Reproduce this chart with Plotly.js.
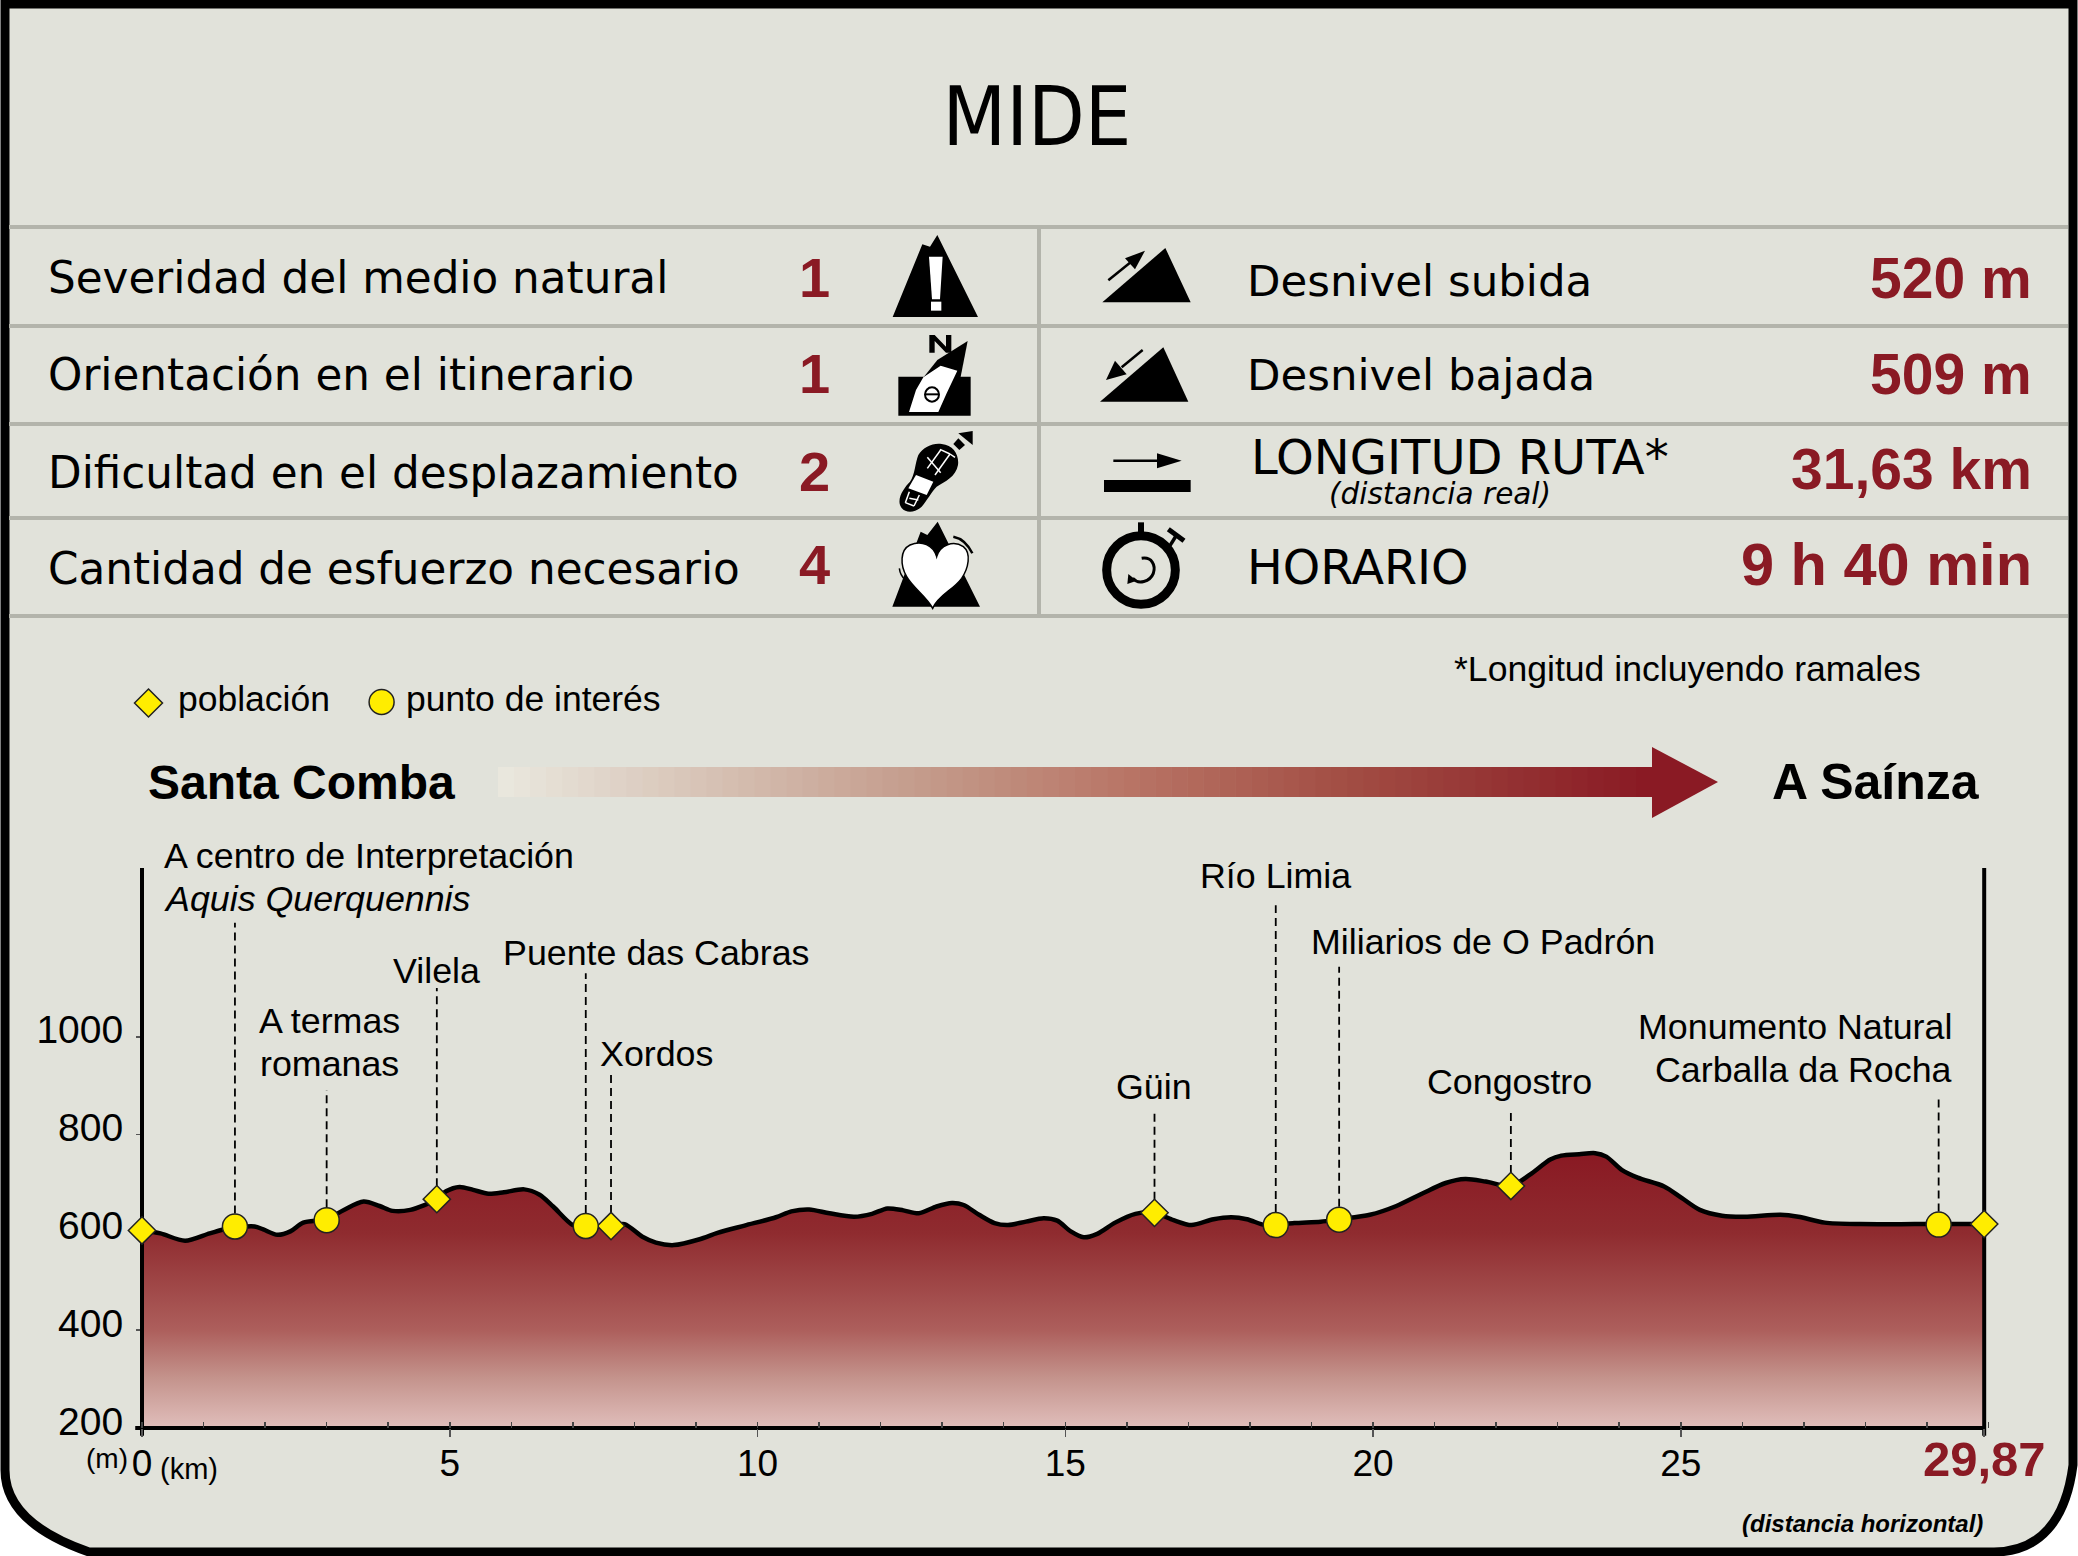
<!DOCTYPE html>
<html><head><meta charset="utf-8">
<script src="https://cdn.plot.ly/plotly-3.0.1.min.js"></script>
<style>html,body{margin:0;padding:0;background:#fff}#c{width:2078px;height:1556px}</style>
</head><body><div id="c"></div>
<script>
// ---- data ----
const profileKm = [0,0.3,0.7,1.1,1.39,1.83,1.97,2.2,2.41,2.62,3,3.28,3.6,3.86,4.07,4.36,4.78,4.94,5.16,5.38,5.63,5.88,6.21,6.46,6.68,7,7.2,7.61,7.84,8.13,8.35,8.64,9.06,9.35,9.79,10.3,10.55,10.84,11.17,11.57,11.86,12.11,12.37,12.62,12.91,13.16,13.35,13.6,13.85,14.07,14.36,14.65,14.87,15.09,15.3,15.52,15.81,16.14,16.45,16.76,17.05,17.41,17.7,17.95,18.24,18.43,18.72,19.15,19.45,19.95,20.38,20.81,21.18,21.5,21.83,22.24,22.55,22.88,23.06,23.35,23.61,23.79,24.04,24.3,24.73,25.02,25.31,25.67,26.04,26.62,26.91,27.34,27.92,28.8,29.21,29.93];
const profileM  = [605,598,583,598,608,612,606,595,602,620,627,646,663,654,644,646,667,684,693,687,679,682,688,677,653,615,612,613,617,591,579,574,586,599,614,631,643,647,639,632,638,649,645,639,653,660,656,636,619,615,622,629,624,602,590,597,620,638,640,625,615,627,631,627,615,615,619,622,627,636,654,680,701,709,704,695,718,749,757,760,762,755,728,712,694,670,646,634,632,636,632,620,617,617,617,617];
const townKm = [0,4.79,7.62,16.45,22.24,29.93];
const townM  = [604,668,613,640,695,617];
const poiKm  = [1.51,3.0,7.21,18.42,19.45,29.19];
const poiM   = [612,625,613,615,626,616];
const leaderKm  = [1.51,3.0,4.79,7.21,7.62,16.45,18.42,19.45,22.24,29.19];
const leaderBase= [612,625,668,613,613,640,615,626,695,616];
const leaderTop = [1233,891,1100,1130,922,850,1269,1143,850,881];
const xTickVals = [0,5,10,15,20,25,29.93];
const xTickText = ['0','5','10','15','20','25','<span style="font-size:49px;font-weight:bold;fill:#8a1a24;color:#8a1a24">29,87</span>'];
const yTickVals = [200,400,600,800,1000];
const leftRows  = ['Severidad del medio natural','Orientación en el itinerario','Dificultad en el desplazamiento','Cantidad de esfuerzo necesario'];
const leftScore = ['1','1','2','4'];
const rightVals = ['520 m','509 m','31,63 km','9 h 40 min'];

const W=2078,H=1556, X=p=>p/W, Y=p=>1-p/H;
const AR='"Liberation Sans",Arial,sans-serif', DJ='"DejaVu Sans",sans-serif', DC='"DejaVu Sans Condensed","DejaVu Sans",sans-serif';
const RED='#8a1a24', BG='#e1e2da', RULE='#b3b4ab';
const annotations=[];
function txt(text,x,base,size,o={}){
  const fam=o.fam||AR, d=fam===AR?0.212:0.236;
  annotations.push({text,xref:'paper',yref:'paper',x:X(x),y:Y(base+d*size),xanchor:o.a||'left',yanchor:'bottom',
    showarrow:false,borderpad:0,borderwidth:0,font:{family:fam,size,color:o.c||'#000'}});
}
// ---- shapes helpers ----
const shapes=[];
function pth(d){return d.replace(/(-?[\d.]+),(-?[\d.]+)/g,(m,a,b)=>X(+a).toFixed(6)+','+Y(+b).toFixed(6));}
function ico(d){return d.replace(/(-?[\d.]+),(-?[\d.]+)/g,(m,a,b)=>(850+a/3)+','+(220+b/3));}
function poly(d,fill,o={}){shapes.push({type:'path',xref:'paper',yref:'paper',path:pth(d),fillcolor:fill||'rgba(0,0,0,0)',
   line:{color:o.lc||'rgba(0,0,0,0)',width:o.lw||0},layer:o.layer||'above'});}
function icon(d,fill,o){poly(ico(d),fill,o);}
function ln(x0,y0,x1,y1,c,w,layer){shapes.push({type:'line',xref:'paper',yref:'paper',x0:X(x0),y0:Y(y0),x1:X(x1),y1:Y(y1),line:{color:c,width:w},layer:layer||'above'});}
function circ(cx,cy,r,fill,lc,lw){shapes.push({type:'circle',xref:'paper',yref:'paper',x0:X(cx-r),x1:X(cx+r),y0:Y(cy-r),y1:Y(cy+r),fillcolor:fill,line:{color:lc,width:lw},layer:'above'});}

// frame
poly('M5,4 L2073,4 L2073,1465 C2066,1520 2040,1552 1994,1552 L89,1552 C40,1535 5,1510 5,1470 Z',BG,{lc:'#000',lw:9,layer:'below'});
// table rules
[227,326,424,518,616].forEach(y=>ln(9,y,2068,y,RULE,4,'below'));
ln(1039,227,1039,616,RULE,4,'below');

// icons (coordinates in a 3x icon-sheet space)
icon('M128,291 L217,73 L240,80 L262,45 L384,291 Z','#000');
icon('M237,110 L278,110 L270,238 L246,238 Z','#fff'); icon('M243,245 L274,245 L274,272 L243,272 Z','#fff');
icon('M145,470 L362,470 L362,587 L145,587 Z','#000');
icon('M238,345 L254,345 L288,380 L288,345 L304,345 L304,398 L288,398 L254,363 L254,398 L238,398 Z','#000');
icon('M353,363 L262,420 L222,470 L300,540 L332,470 Z','#000');
icon('M322,452 L272,437 L220,472 L198,510 L177,576 L265,576 L290,520 Z','#fff');
shapes.push({type:'circle',xref:'paper',yref:'paper',x0:X(850+225/3),x1:X(850+267/3),y0:Y(220+502/3),y1:Y(220+545/3),fillcolor:'rgba(0,0,0,0)',line:{color:'#000',width:2},layer:'above'});
icon('M226,523 L266,523',null,{lc:'#000',lw:2});
icon('M275,672 C310,675 328,705 324,735 C318,770 285,785 260,800 C245,815 232,840 215,860 C195,880 160,882 150,855 C142,830 165,800 180,785 C195,765 195,730 205,705 C220,680 250,668 275,672 Z','#000');
icon('M198,765 L250,785 L230,825 L175,805 Z','#fff');
['M232,712 L272,758','M300,702 L255,765','M272,690 L232,745','M270,688 L300,702','M300,702 L315,712','M178,815 L166,848','M208,825 L192,858','M166,848 L192,858','M178,835 L205,840'].forEach(d=>icon(d,null,{lc:'#fff',lw:1.5}));
icon('M310,672 L325,655 L345,675 L328,690 Z','#000'); icon('M325,640 L368,633 L368,675 Z','#000');
icon('M127,1160 L212,935 L232,945 L263,905 L390,1160 Z','#000');
icon('M248,1165 C230,1130 190,1105 170,1070 C150,1035 150,990 180,975 C215,960 250,975 260,1010 C270,975 310,960 340,980 C365,1000 355,1045 335,1075 C310,1110 265,1125 248,1165 Z','#fff',{lc:'#000',lw:1.5});
icon('M310,950 C335,955 355,975 367,1000',null,{lc:'#000',lw:2.5}); icon('M148,1045 C150,1060 155,1070 165,1078',null,{lc:'#000',lw:1.5});
icon('M757,247 L946,84 L1022,247 Z','#000'); icon('M775,181 L840,128',null,{lc:'#000',lw:2.5}); icon('M885,92 L825,115 L855,148 Z','#000');
icon('M750,545 L940,382 L1015,545 Z','#000'); icon('M878,390 L815,442',null,{lc:'#000',lw:2.5}); icon('M768,480 L830,463 L795,422 Z','#000');
icon('M790,722 L930,722',null,{lc:'#000',lw:2.5}); icon('M995,722 L921,700 L921,745 Z','#000'); icon('M762,780 L1022,780 L1022,816 L762,816 Z','#000');
shapes.push({type:'circle',xref:'paper',yref:'paper',x0:X(850+770/3),x1:X(850+976/3),y0:Y(220+947/3),y1:Y(220+1153/3),fillcolor:'rgba(0,0,0,0)',line:{color:'#000',width:9},layer:'above'});
icon('M864,907 L882,907 L882,942 L864,942 Z','#000');
icon('M958,980 L978,948',null,{lc:'#000',lw:3.5}); icon('M955,928 L1002,962',null,{lc:'#000',lw:5});
icon('M875,1015 C905,1010 918,1035 910,1060 C900,1085 865,1095 848,1075',null,{lc:'#000',lw:3});
icon('M832,1092 L835,1062 L860,1082 Z','#000');

// legend keys
poly('M148.5,689 L162.5,703 L148.5,717 L134.5,703 Z','#ffed00',{lc:'#222',lw:1.5});
circ(381.6,702,12.5,'#ffed00','#222',1.5);
txt('población',178,711,35.5); txt('punto de interés',406,711,35.5);

// direction arrow
const aL=498,aR=1652,aN=72;
const stops=[[0,[233,231,221]],[0.35,[197,158,142]],[0.55,[184,116,101]],[0.73,[163,79,69]],[0.9,[146,46,48]],[1,[138,26,36]]];
function arrowColor(t){for(let i=1;i<stops.length;i++){if(t<=stops[i][0]){const a=stops[i-1],b=stops[i],f=(t-a[0])/(b[0]-a[0]);return a[1].map((v,k)=>Math.round(v+(b[1][k]-v)*f));}}return stops[stops.length-1][1];}
for(let i=0;i<aN;i++){const c=arrowColor(i/(aN-1));
  const x0=aL+(aR-aL)*i/aN,x1=aL+(aR-aL)*(i+1)/aN+0.6;
  poly(`M${x0},767 L${x1},767 L${x1},797 L${x0},797 Z`,`rgb(${c})`);}
poly('M1652,747 L1718,782 L1652,818 Z',RED);

// ---- text ----
const leftBase=[293,390,488,584], scoreBase=[297,393,491,584], valBase=[298,394,488.6,585], valSize=[57,57,57,59.5];
leftRows.forEach((t,i)=>txt(t,47.5,leftBase[i],43.7,{fam:DJ}));
leftScore.forEach((t,i)=>txt('<b>'+t+'</b>',814,scoreBase[i],56,{a:'center',c:RED}));
rightVals.forEach((t,i)=>txt('<b>'+t+'</b>',2032,valBase[i],valSize[i],{a:'right',c:RED}));
txt('Desnivel subida',1246.5,296,43.5,{fam:DJ}); txt('Desnivel bajada',1246.5,390,43.5,{fam:DJ});
txt('LONGITUD RUTA*',1250.5,473.5,48,{fam:DJ}); txt('<i>(distancia real)</i>',1328.5,504,29.5,{fam:DJ});
txt('HORARIO',1246.5,584,47.6,{fam:DJ});
txt('*Longitud incluyendo ramales',1454,681,35.6);
txt('<b>Santa Comba</b>',147.5,799,48); txt('<b>A Saínza</b>',1772,799,50);
txt('A centro de Interpretación',164,868,35.8); txt('<i>Aquis Querquennis</i>',164,911,35.8);
txt('A termas',329.6,1033.5,35.8,{a:'center'}); txt('romanas',329.6,1076,35.8,{a:'center'});
txt('Vilela',436.7,983.5,35.8,{a:'center'}); txt('Puente das Cabras',656,965.5,35.8,{a:'center'});
txt('Xordos',656,1066,35.8,{a:'center'}); txt('Güin',1154,1099,35.8,{a:'center'});
txt('Río Limia',1275.7,888.5,35.8,{a:'center'}); txt('Miliarios de O Padrón',1483,954.5,35.8,{a:'center'});
txt('Congostro',1509.6,1094,35.8,{a:'center'});
txt('Monumento Natural',1952,1039,35.8,{a:'right'}); txt('Carballa da Rocha',1952,1082,35.8,{a:'right'});
txt('(m)',107,1468,28,{a:'center'}); txt('(km)',188.5,1479,29,{a:'center'});
txt('<b><i>(distancia horizontal)</i></b>',1983,1532,24,{a:'right'});

// ---- scales: pixels per unit, with a small overscan so edge lines are not clipped ----
const endKm=xTickVals[xTickVals.length-1], topM=1345;
const pxKm=61.55, pxM=0.489, x0Px=142, y200Px=1428;
const xr=[-0.25,endKm+0.25], yr=[180,topM+5];
const dom=[X(x0Px+xr[0]*pxKm),X(x0Px+xr[1]*pxKm)];
const ydom=[Y(y200Px-(yr[0]-200)*pxM),Y(y200Px-(yr[1]-200)*pxM)];
const leaderX=[],leaderY=[];
leaderKm.forEach((k,i)=>{leaderX.push(k,k,null);leaderY.push(leaderBase[i],leaderTop[i],null);});
const traces=[
 {type:'scatter',mode:'lines',x:[0,endKm],y:[200,200],xaxis:'x',yaxis:'y',line:{width:0,color:'rgba(0,0,0,0)'},hoverinfo:'skip',showlegend:false},
 {type:'scatter',mode:'lines',x:profileKm,y:profileM,fill:'tonexty',xaxis:'x',yaxis:'y',
  fillgradient:{type:'vertical',start:200,stop:770,colorscale:[[0,'#e0bebb'],[0.18,'#c4938c'],[0.35,'#ad5f5c'],[0.7,'#8f2b2f'],[1,'#891822']]},
  line:{color:'#000',width:4.5,shape:'spline',smoothing:0.8},hoverinfo:'skip',showlegend:false},
 {type:'scatter',mode:'lines',x:leaderX,y:leaderY,xaxis:'x2',yaxis:'y',line:{color:'#000',width:1.8,dash:'8px,5px'},hoverinfo:'skip',showlegend:false},
 {type:'scatter',mode:'lines',x:[0,0,null,endKm,endKm,null,-0.11,endKm],y:[topM,184,null,topM,184,null,200,200],
  xaxis:'x2',yaxis:'y',line:{color:'#000',width:4},hoverinfo:'skip',showlegend:false},
 {type:'scatter',mode:'markers',name:'población',x:townKm,y:townM,xaxis:'x2',yaxis:'y',cliponaxis:false,
  marker:{symbol:'diamond',size:21,color:'#ffed00',line:{color:'#222',width:1.5}},showlegend:false},
 {type:'scatter',mode:'markers',name:'punto de interés',x:poiKm,y:poiM,xaxis:'x2',yaxis:'y',cliponaxis:false,
  marker:{symbol:'circle',size:25,color:'#ffed00',line:{color:'#222',width:1.5}},showlegend:false}
];
const layout={
 width:W,height:H,margin:{l:0,r:0,t:0,b:0,pad:0},paper_bgcolor:'#fff',plot_bgcolor:'rgba(0,0,0,0)',showlegend:false,
 title:{text:'MIDE',xref:'paper',yref:'paper',x:X(1037),xanchor:'center',y:Y(126+0.236*82),yanchor:'bottom',font:{family:DC,size:82,color:'#000'}},
 xaxis:{domain:dom,range:xr,anchor:'free',position:Y(y200Px),tickmode:'array',tickvals:xTickVals,ticktext:xTickText,ticks:'outside',ticklen:8,tickwidth:1.5,tickcolor:'#555',
   showline:false,showgrid:false,zeroline:false,layer:'above traces',tickangle:0,ticklabelstandoff:-5,automargin:false,
   tickfont:{family:AR,size:37,color:'#000'}},
 xaxis2:{domain:dom,range:xr,overlaying:'x',anchor:'free',position:Y(y200Px),side:'bottom',tickmode:'linear',tick0:0,dtick:1,ticks:'inside',ticklen:6,tickwidth:1.5,tickcolor:'#444',
   showticklabels:false,showline:false,showgrid:false,zeroline:false,layer:'above traces',automargin:false},
 yaxis:{domain:ydom,range:yr,anchor:'free',position:X(x0Px),tickmode:'array',tickvals:yTickVals,ticktext:yTickVals.map(String),ticks:'outside',ticklen:6,tickwidth:1.5,tickcolor:'#555',
   showline:false,showgrid:false,zeroline:false,layer:'below traces',ticklabelstandoff:5,ticklabelshift:-7,automargin:false,
   tickfont:{family:AR,size:39,color:'#000'}},
 shapes,annotations
};
Plotly.newPlot('c',traces,layout,{displayModeBar:false,staticPlot:true});
</script></body></html>
